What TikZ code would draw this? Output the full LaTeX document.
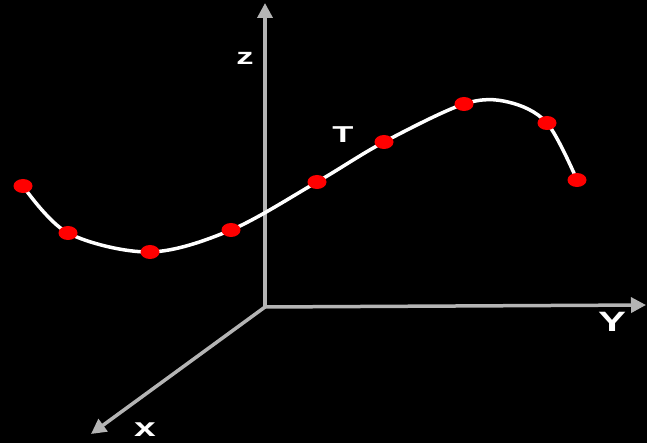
\documentclass[tikz,border=0pt]{standalone}
\usepackage{fontspec}
\setsansfont{Liberation Sans}
\usetikzlibrary{arrows.meta,shapes.geometric}
\definecolor{axisgray}{HTML}{B4B4B4}
\definecolor{dotred}{HTML}{FF0000}
\newcommand{\widelbl}[2]{\fontsize{#1}{#1}\selectfont\scalebox{1.5}[1]{#2}}

\begin{document}
\begin{tikzpicture}[x=1pt,y=-1pt,
axis/.style={line width=3.5pt,color=axisgray,-{Triangle[width=15pt,length=15pt]}},
curve/.style={line width=3.5pt,color=white,smooth,tension=0.55},
dot/.style={ellipse,fill=dotred,inner sep=0pt,minimum width=19pt,minimum height=14pt},
lbl/.style={text=white,font=\sffamily\bfseries,inner sep=0pt}]
\fill[black] (0,0) rectangle (647,443);
\useasboundingbox (0,0) rectangle (647,443);
% axes
\coordinate (o) at (265,307);
\coordinate (ztip) at (265,3);
\coordinate (ytip) at (646,305);
\coordinate (xtip) at (91,434);
\draw[axis] (o)--(ztip);
\draw[axis] (o)--(ytip);
\draw[axis] (o)--(xtip);
\node[lbl] (zlab) at (245,58) {\widelbl{23}{z}};
\node[lbl] (ylab) at (612,322) {\widelbl{28}{Y}};
\node[lbl] (xlab) at (145,430) {\widelbl{26}{x}};
% curve
\coordinate (c1) at (23,186);
\coordinate (c2) at (68,233);
\coordinate (c3) at (150,252);
\coordinate (c4) at (231,230);
\coordinate (c5) at (317,182);
\coordinate (c6) at (384,142);
\coordinate (c7) at (464,104);
\coordinate (ctop) at (508,102);
\coordinate (c8) at (547,123);
\coordinate (c9) at (577,180);
\draw[curve] plot coordinates {(c1) (c2) (c3) (c4) (c5) (c6) (c7) (ctop) (c8) (c9)};
\node[lbl] (tlab) at (343,135) {\widelbl{23}{T}};
\node[dot] (d1) at (c1) {};
\node[dot] (d2) at (c2) {};
\node[dot] (d3) at (c3) {};
\node[dot] (d4) at (c4) {};
\node[dot] (d5) at (c5) {};
\node[dot] (d6) at (c6) {};
\node[dot] (d7) at (c7) {};
\node[dot] (d8) at (c8) {};
\node[dot] (d9) at (c9) {};
\end{tikzpicture}
\end{document}
